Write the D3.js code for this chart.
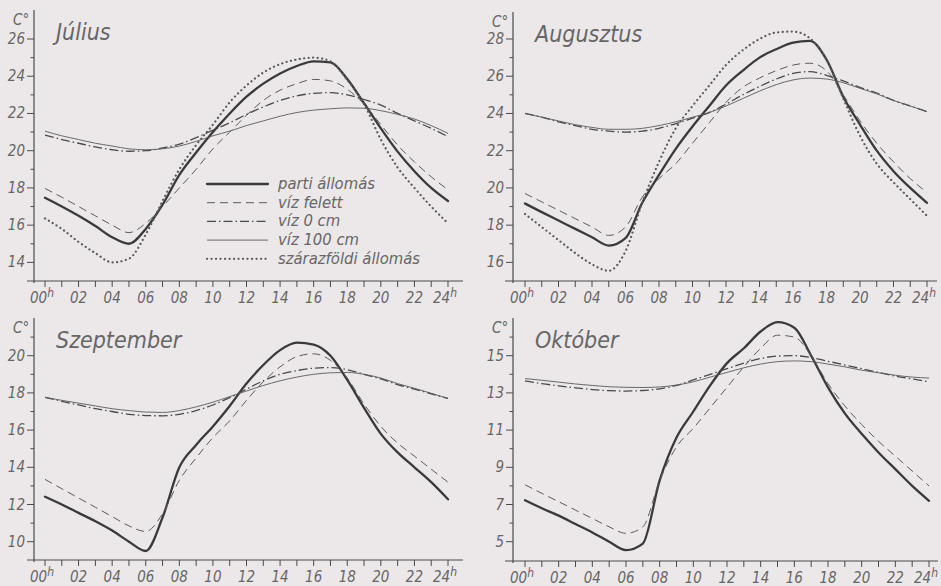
<!DOCTYPE html>
<html><head><meta charset="utf-8">
<script src="https://cdn.jsdelivr.net/npm/d3@7/dist/d3.min.js"></script>
<style>
body{margin:0;background:#ece8e9}
svg{display:block}
text{font-family:'Liberation Sans Narrow','DejaVu Sans Condensed','Liberation Sans',sans-serif;font-style:italic;fill:#666}
</style>
</head><body>
<svg id="chart" width="941" height="586"></svg>
<script>
// ---------- data ----------
const hours = [0,1,2,3,4,5,6,7,8,9,10,11,12,13,14,15,16,17,18,19,20,21,22,23,24];
const hourTickLabels = ["00","02","04","06","08","10","12","14","16","18","20","22","24"];
const seriesNames = ["parti állomás","víz felett","víz 0 cm","víz 100 cm","szárazföldi állomás"];
const monthNames = ["Július","Augusztus","Szeptember","Október"];

const julParti  = [17.47,17.0,16.5,15.95,15.35,15.0,15.8,17.1,18.7,19.9,21.0,22.0,22.9,23.6,24.15,24.55,24.8,24.75,23.85,22.55,21.2,19.95,18.9,18.0,17.3];
const julFelett = [17.97,17.5,17.0,16.5,16.0,15.6,16.1,17.0,18.0,19.0,20.1,21.0,21.9,22.7,23.25,23.6,23.83,23.75,23.3,22.5,21.4,20.3,19.4,18.6,17.9];
const julViz0   = [20.84,20.6,20.4,20.2,20.05,19.97,20.0,20.15,20.35,20.7,21.1,21.5,21.95,22.35,22.7,22.95,23.08,23.12,23.0,22.75,22.45,22.0,21.6,21.2,20.75];
const julViz100 = [21.05,20.8,20.6,20.4,20.25,20.1,20.05,20.1,20.25,20.5,20.8,21.05,21.35,21.6,21.85,22.05,22.18,22.25,22.3,22.28,22.15,21.95,21.7,21.35,20.93];
const julSzaraz = [16.36,15.8,15.1,14.5,14.0,14.2,15.5,17.3,19.0,20.3,21.4,22.6,23.5,24.2,24.65,24.9,25.0,24.8,23.8,22.5,20.6,19.1,18.0,17.0,16.1];

const augParti  = [19.16,18.7,18.25,17.8,17.35,16.9,17.3,19.2,20.7,22.1,23.3,24.4,25.5,26.3,27.0,27.45,27.8,27.9,26.9,24.9,23.4,22.0,20.9,20.0,19.2];
const augFelett = [19.7,19.25,18.8,18.35,17.9,17.45,17.9,19.5,20.5,21.3,22.4,23.5,24.6,25.4,25.9,26.3,26.6,26.7,26.3,25.0,23.6,22.4,21.4,20.5,19.75];
const augViz0   = [24.0,23.8,23.55,23.35,23.15,23.05,23.0,23.05,23.2,23.45,23.75,24.05,24.5,25.0,25.45,25.85,26.15,26.25,26.05,25.75,25.4,25.1,24.7,24.4,24.1];
const augViz100 = [24.0,23.8,23.6,23.4,23.25,23.15,23.15,23.2,23.35,23.55,23.8,24.05,24.4,24.8,25.2,25.55,25.8,25.9,25.85,25.65,25.35,25.05,24.7,24.4,24.1];
const augSzaraz = [18.6,17.9,17.2,16.5,15.9,15.55,16.6,19.2,21.4,23.2,24.4,25.5,26.6,27.4,28.0,28.35,28.4,28.05,26.9,24.8,22.8,21.3,20.3,19.4,18.5];

const szeParti  = [12.42,12.0,11.55,11.1,10.6,10.0,9.5,11.3,14.0,15.2,16.2,17.3,18.5,19.5,20.3,20.7,20.6,20.0,18.7,17.2,15.8,14.8,14.0,13.2,12.28];
const szeFelett = [13.35,12.85,12.35,11.85,11.35,10.85,10.55,11.5,13.3,14.5,15.6,16.5,17.6,18.6,19.4,19.95,20.1,19.75,18.8,17.4,16.2,15.3,14.6,13.9,13.2];
const szeViz0   = [17.76,17.55,17.35,17.15,17.0,16.85,16.78,16.77,16.85,17.05,17.35,17.75,18.2,18.65,19.0,19.2,19.33,19.36,19.25,19.0,18.75,18.45,18.2,17.95,17.7];
const szeViz100 = [17.76,17.6,17.45,17.3,17.15,17.05,16.97,16.95,17.05,17.25,17.5,17.8,18.1,18.4,18.65,18.85,19.0,19.08,19.1,19.0,18.8,18.5,18.25,17.98,17.7];

const oktParti  = [7.23,6.8,6.4,5.95,5.5,5.0,4.55,4.9,8.3,10.6,12.0,13.4,14.6,15.4,16.3,16.8,16.5,15.0,13.3,11.9,10.8,9.8,8.9,8.0,7.2];
const oktFelett = [8.06,7.6,7.15,6.7,6.25,5.8,5.45,5.8,8.3,10.1,11.1,12.2,13.3,14.4,15.4,16.1,16.0,15.0,13.5,12.3,11.3,10.4,9.6,8.8,8.0];
const oktViz0   = [13.65,13.5,13.38,13.27,13.18,13.12,13.1,13.13,13.22,13.4,13.7,14.0,14.3,14.6,14.85,14.98,15.0,14.9,14.7,14.5,14.3,14.1,13.9,13.75,13.6];
const oktViz100 = [13.77,13.68,13.58,13.48,13.4,13.33,13.3,13.29,13.32,13.42,13.6,13.85,14.1,14.35,14.55,14.68,14.72,14.68,14.55,14.4,14.22,14.08,13.95,13.85,13.8];

const julYLabels = [14,16,18,20,22,24,26];
const augYLabels = [16,18,20,22,24,26,28];
const szeYLabels = [10,12,14,16,18,20];
const oktYLabels = [5,7,9,11,13,15];

// ---------- styles ----------
const styles = [
  {w:2.3, dash:null, color:"#3a3a3a", cap:"round"},
  {w:1.0, dash:"8,5", color:"#5a5a5a", cap:"butt"},
  {w:1.3, dash:"9,3,1.5,3", color:"#4a4a4a", cap:"butt"},
  {w:0.9, dash:null, color:"#5a5a5a", cap:"butt"},
  {w:2.2, dash:"0.1,4.4", color:"#5a5a5a", cap:"round"}
];

const panels = [
  {title:monthNames[0], series:[julParti,julFelett,julViz0,julViz100,julSzaraz], yl:julYLabels,
   axisX:34, x0:45, x1:448, axisY:281, top:10, dom:[13,26], rng:[281,39], minor:[14,26], hLine:[27,463]},
  {title:monthNames[1], series:[augParti,augFelett,augViz0,augViz100,augSzaraz], yl:augYLabels,
   axisX:513, x0:525, x1:927, axisY:281, top:12, dom:[15,28], rng:[281,39], minor:[16,28], hLine:[505,937]},
  {title:monthNames[2], series:[szeParti,szeFelett,szeViz0,szeViz100], yl:szeYLabels,
   axisX:34, x0:45, x1:448, axisY:560, top:318, dom:[9,20], rng:[560.3,355.7], minor:[10,21], hLine:[27,463]},
  {title:monthNames[3], series:[oktParti,oktFelett,oktViz0,oktViz100], yl:oktYLabels,
   axisX:513, x0:525, x1:929, axisY:561, top:318, dom:[4,15], rng:[560.3,355.7], minor:[5,16], hLine:[505,938]}
];

const svg = d3.select("#chart");
svg.append("rect").attr("width",941).attr("height",586).attr("fill","#ece8e9");

panels.forEach((p,pi)=>{
  const g = svg.append("g");
  const x = d3.scaleLinear().domain([0,24]).range([p.x0,p.x1]);
  const y = d3.scaleLinear().domain(p.dom).range(p.rng);

  g.append("line").attr("x1",p.axisX).attr("x2",p.axisX).attr("y1",p.top).attr("y2",p.axisY+2)
    .attr("stroke","#4a4a4a").attr("stroke-width",1.2);
  g.append("line").attr("x1",p.hLine[0]).attr("x2",p.hLine[1]).attr("y1",p.axisY).attr("y2",p.axisY)
    .attr("stroke","#4a4a4a").attr("stroke-width",1.2);

  const yMinor = d3.range(p.minor[0], p.minor[1]+1);
  yMinor.forEach(v=>{
    const major = p.yl.includes(v);
    g.append("line").attr("x1",p.axisX-(major?7:3.5)).attr("x2",p.axisX).attr("y1",y(v)).attr("y2",y(v))
      .attr("stroke","#4a4a4a").attr("stroke-width",1);
  });
  p.yl.forEach(v=>{
    g.append("text").attr("x",p.axisX-9).attr("y",y(v)+5).attr("text-anchor","end")
      .attr("font-size",15).text(v);
  });
  g.append("text").attr("x",p.axisX-21).attr("y",p.top+15).attr("font-size",15).text("C°");

  hours.forEach(h=>{
    g.append("line").attr("x1",x(h)).attr("x2",x(h)).attr("y1",p.axisY).attr("y2",p.axisY+6)
      .attr("stroke","#4a4a4a").attr("stroke-width",1);
  });
  hourTickLabels.forEach((lab,i)=>{
    const h = +lab;
    const t = g.append("text").attr("x",x(h)-(i===0||i===12?3:0)).attr("y",p.axisY+22)
      .attr("text-anchor","middle").attr("font-size",15);
    t.append("tspan").text(lab);
    if(i===0||i===12){
      t.append("tspan").attr("dy",-6).attr("font-size",12).text("h");
    }
  });

  g.append("text").attr("x",p.axisX+22).attr("y",p.top+30).attr("font-size",23).text(p.title);

  const line = d3.line().x((d,i)=>x(hours[i])).y(d=>y(d)).curve(d3.curveMonotoneX);
  p.series.forEach((s,si)=>{
    const st = styles[si];
    g.append("path").attr("d",line(s)).attr("fill","none")
      .attr("stroke",st.color).attr("stroke-width",st.w)
      .attr("stroke-dasharray",st.dash).attr("stroke-linecap",st.cap)
      .attr("stroke-linejoin","round");
  });
});

const lg = svg.append("g");
seriesNames.forEach((n,i)=>{
  const st = styles[i];
  const yy = 184 + i*18.7;
  lg.append("line").attr("x1",207).attr("x2",268).attr("y1",yy).attr("y2",yy)
    .attr("stroke",st.color).attr("stroke-width",st.w).attr("stroke-dasharray",st.dash)
    .attr("stroke-linecap",st.cap);
  lg.append("text").attr("x",278).attr("y",yy+5).attr("font-size",16.5).text(n);
});
</script>
</body></html>
